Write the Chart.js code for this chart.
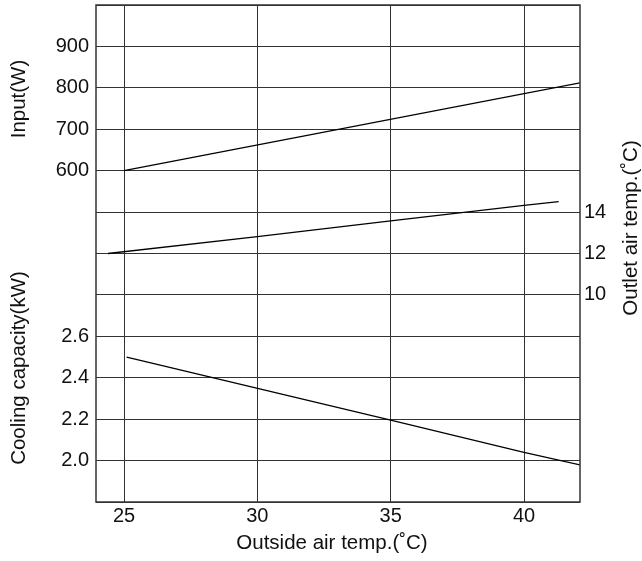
<!DOCTYPE html>
<html>
<head>
<meta charset="utf-8">
<script src="https://cdn.jsdelivr.net/npm/chart.js@4"></script>
<style>
  body { margin: 0; background: #fff; }
  #wrap { width: 642px; height: 561px; }
</style>
</head>
<body>
<div id="wrap"><canvas id="graphe"></canvas></div>
<script>
  // valeurs
  const inputTemp = [25, 42.1];
  const inputWatts = [600, 812];
  const outletTemp = [24.4, 30, 35, 40, 41.3];
  const outletAir = [12.0, 12.81, 13.58, 14.32, 14.51];
  const coolTemp = [25.1, 35, 40, 42.1];
  const coolKw = [2.5, 2.195, 2.04, 1.979];

  const xTicks = [25, 30, 35, 40];
  const inputTicks = [600, 700, 800, 900];
  const outletTicks = [10, 12, 14];
  const coolTicks = [2.0, 2.2, 2.4, 2.6];

  const xMin = 23.95, xMax = 42.1;

  const police = { family: '"Liberation Sans", Arial, sans-serif', size: 20 };
  const noir = '#111';
  const grille = '#333';

  const pts = (xs, ys) => xs.map((x, i) => ({ x: x, y: ys[i] }));

  // cadre + titres des axes, places a la main
  const titres = {
    id: 'titres',
    afterDraw(chart) {
      const c = chart.ctx;
      const a = chart.chartArea;
      c.save();
      c.strokeStyle = grille;
      c.lineWidth = 1.5;
      c.strokeRect(a.left, a.top, a.right - a.left, a.bottom - a.top);
      c.fillStyle = noir;
      c.font = '20.5px "Liberation Sans", Arial, sans-serif';
      c.textAlign = 'center';
      c.textBaseline = 'middle';
      c.fillText('Outside air temp.(˚C)', 332, 543);
      const vert = (txt, x, y) => {
        c.save();
        c.translate(x, y);
        c.rotate(-Math.PI / 2);
        c.fillText(txt, 0, 0);
        c.restore();
      };
      vert('Input(W)', 19, 99);
      vert('Cooling capacity(kW)', 19, 368);
      vert('Outlet air temp.(˚C)', 631, 228);
      c.restore();
    }
  };

  const sansMarge = s => { s.paddingTop = 0; s.paddingBottom = 0; };

  new Chart(document.getElementById('graphe'), {
    type: 'line',
    data: {
      datasets: [
        { label: 'Input', data: pts(inputTemp, inputWatts), yAxisID: 'yInput' },
        { label: 'Outlet', data: pts(outletTemp, outletAir), yAxisID: 'yOut' },
        { label: 'Cooling', data: pts(coolTemp, coolKw), yAxisID: 'yCool' }
      ]
    },
    options: {
      responsive: true,
      maintainAspectRatio: false,
      animation: false,
      layout: { padding: { top: 5, left: 0, right: 0, bottom: 0 } },
      elements: {
        line: { borderColor: '#000', borderWidth: 1.3, tension: 0 },
        point: { radius: 0 }
      },
      plugins: { legend: { display: false }, tooltip: { enabled: false } },
      scales: {
        x: {
          type: 'linear',
          min: xMin,
          max: xMax,
          afterBuildTicks: s => { s.ticks = xTicks.map(v => ({ value: v })); },
          afterFit: s => { s.height = 59; },
          grid: { color: grille, drawTicks: false },
          border: { display: false },
          ticks: { font: police, color: noir, padding: 2 }
        },
        yCool: {
          position: 'left',
          min: 1.8,
          max: 4.2,
          afterFit: s => { s.width = 96; sansMarge(s); },
          grid: { color: grille, drawTicks: false },
          border: { display: false },
          ticks: {
            stepSize: 0.2,
            font: police, color: noir, padding: 7,
            callback: v => coolTicks.includes(Math.round(v * 10) / 10) ? v.toFixed(1) : ''
          }
        },
        // axe des watts, un peu a gauche du cadre (le padding n'est pas pris en compte ici)
        yInput: {
          position: { x: xMin - 0.26 },
          min: -200,
          max: 1000,
          afterFit: s => { s.width = 0; sansMarge(s); },
          grid: { display: false, drawTicks: false },
          border: { display: false },
          ticks: {
            stepSize: 100,
            font: police, color: noir, padding: 0,
            callback: v => inputTicks.includes(v) ? v : ''
          }
        },
        yOut: {
          position: 'right',
          min: 0,
          max: 24,
          afterFit: s => { s.width = 62; sansMarge(s); },
          grid: { display: false, drawTicks: false },
          border: { display: false },
          ticks: {
            stepSize: 2,
            font: police, color: noir, padding: 4,
            callback: v => outletTicks.includes(v) ? v : ''
          }
        }
      }
    },
    plugins: [titres]
  });
</script>
</body>
</html>
